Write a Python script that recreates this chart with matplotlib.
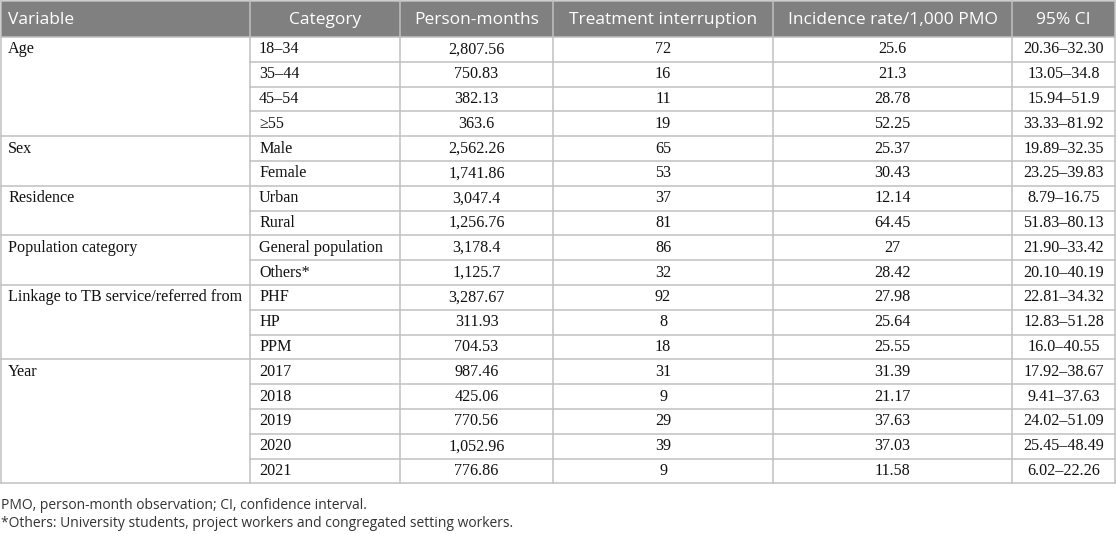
import matplotlib
matplotlib.use("Agg")
import matplotlib.pyplot as plt
from matplotlib.patches import Rectangle

# ---- data ----
headers = ["Variable", "Category", "Person-months", "Treatment interruption",
           "Incidence rate/1,000 PMO", "95% CI"]
groups = ["Age", "Sex", "Residence", "Population category",
          "Linkage to TB service/referred from", "Year"]
group_sizes = [4, 2, 2, 2, 3, 5]
categories = ["18–34", "35–44", "45–54", "≥55", "Male", "Female", "Urban", "Rural",
              "General population", "Others*", "PHF", "HP", "PPM",
              "2017", "2018", "2019", "2020", "2021"]
person_months = ["2,807.56", "750.83", "382.13", "363.6", "2,562.26", "1,741.86",
                 "3,047.4", "1,256.76", "3,178.4", "1,125.7", "3,287.67", "311.93",
                 "704.53", "987.46", "425.06", "770.56", "1,052.96", "776.86"]
interruptions = ["72", "16", "11", "19", "65", "53", "37", "81", "86", "32", "92",
                 "8", "18", "31", "9", "29", "39", "9"]
incidence = ["25.6", "21.3", "28.78", "52.25", "25.37", "30.43", "12.14", "64.45",
             "27", "28.42", "27.98", "25.64", "25.55", "31.39", "21.17", "37.63",
             "37.03", "11.58"]
ci95 = ["20.36–32.30", "13.05–34.8", "15.94–51.9", "33.33–81.92", "19.89–32.35",
        "23.25–39.83", "8.79–16.75", "51.83–80.13", "21.90–33.42", "20.10–40.19",
        "22.81–34.32", "12.83–51.28", "16.0–40.55", "17.92–38.67", "9.41–37.63",
        "24.02–51.09", "25.45–48.49", "6.02–22.26"]
footnotes = ["PMO, person-month observation; CI, confidence interval.",
             "*Others: University students, project workers and congregated setting workers."]

# ---- layout ----
W, H = 1116, 534
col_edges = [1, 250, 400, 553, 773, 1012, 1115]
top = 1
header_h = 36
row_h = 24.8
line_col = "#c0c0c0"
header_fill = "#808080"
lw = 1.1
body_fs = 11.6

fig = plt.figure(figsize=(W / 100, H / 100), dpi=100)
ax = fig.add_axes([0, 0, 1, 1])
ax.set_xlim(0, W)
ax.set_ylim(H, 0)
ax.axis("off")

serif = ["Liberation Serif", "DejaVu Serif"]
sans = ["Open Sans", "DejaVu Sans"]

# header
hb = top + header_h
ax.add_patch(Rectangle((col_edges[0], top), col_edges[-1] - col_edges[0], header_h,
                       facecolor=header_fill, edgecolor="none", zorder=1))
for j, h in enumerate(headers):
    if j == 0:
        x, ha = col_edges[0] + 7, "left"
    else:
        x, ha = (col_edges[j] + col_edges[j + 1]) / 2, "center"
    ax.text(x, top + header_h / 2 + 1, h, ha=ha, va="center", color="white",
            fontsize=12.5, family=sans, zorder=3)

n = len(categories)
bottom = hb + n * row_h

# body text
for i in range(n):
    yc = hb + (i + 0.5) * row_h
    ax.text(col_edges[1] + 9, yc, categories[i], ha="left", va="center",
            fontsize=body_fs, family=serif, color="#111111", zorder=3)
    for j, vals in enumerate([person_months, interruptions, incidence, ci95]):
        xc = (col_edges[j + 2] + col_edges[j + 3]) / 2
        ax.text(xc, yc, vals[i], ha="center", va="center", fontsize=body_fs,
                family=serif, color="#111111", zorder=3)

start = 0
group_starts = []
for g, sz in zip(groups, group_sizes):
    group_starts.append(start)
    yc = hb + (start + 0.5) * row_h
    ax.text(col_edges[0] + 7, yc, g, ha="left", va="center", fontsize=body_fs,
            family=serif, color="#111111", zorder=3)
    start += sz

# horizontal lines
for i in range(1, n):
    y = hb + i * row_h
    x0 = col_edges[0] if i in group_starts else col_edges[1]
    ax.plot([x0, col_edges[-1]], [y, y], color=line_col, lw=lw, zorder=2)
ax.plot([col_edges[0], col_edges[-1]], [hb, hb], color=line_col, lw=lw, zorder=2)
ax.plot([col_edges[0], col_edges[-1]], [top, top], color=line_col, lw=lw, zorder=2)
ax.plot([col_edges[0], col_edges[-1]], [bottom, bottom], color=line_col, lw=lw, zorder=2)

# vertical lines
for x in col_edges:
    ax.plot([x, x], [top, bottom], color=line_col, lw=lw, zorder=2)

# footnotes
for k, f in enumerate(footnotes):
    ax.text(col_edges[0], bottom + 22 + k * 18, f, ha="left", va="center",
            fontsize=10, family=sans, color="#333333")

fig.savefig("out.png", dpi=100)
